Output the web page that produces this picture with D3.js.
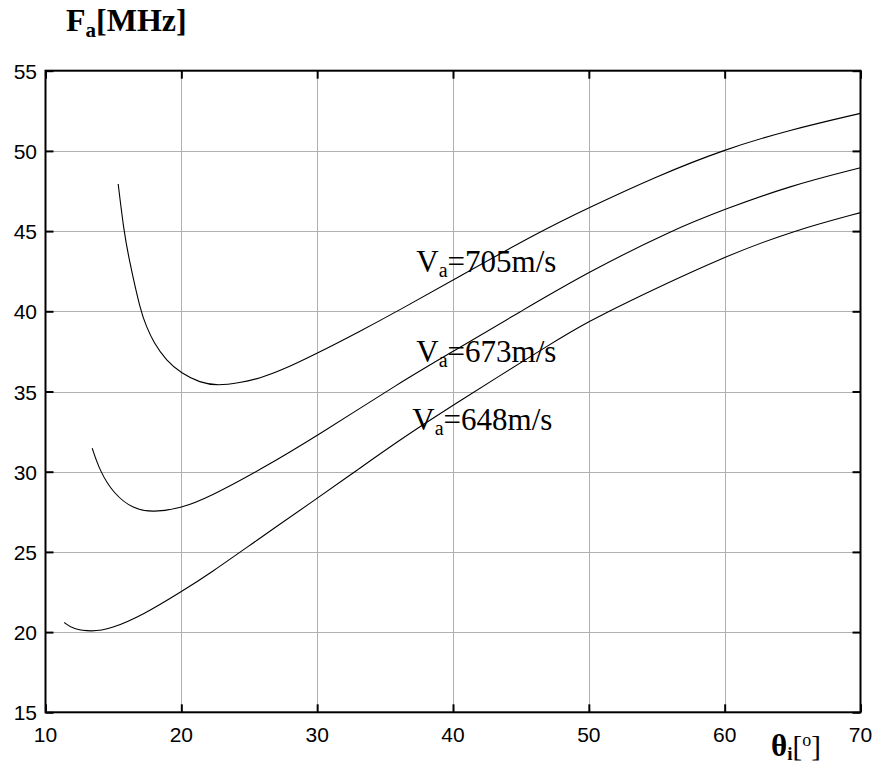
<!DOCTYPE html>
<html>
<head>
<meta charset="utf-8">
<script src="https://cdn.jsdelivr.net/npm/d3@7"></script>
<style>
  body { margin: 0; background: #fff; }
</style>
</head>
<body>
<script>
// angle of incidence (deg) and frequency (MHz)
const x705 = [15.35, 15.77, 16.16, 17.0, 17.44, 17.93, 18.91, 20, 21.36, 22.7, 24.3, 25.77, 27.44, 30, 33.1, 36.07, 40, 46.36, 50, 54.94, 60, 64.74, 70];
const y705 = [47.94, 45.0, 43.2, 40.0, 39.04, 38.1, 36.9, 36.14, 35.55, 35.36, 35.55, 35.82, 36.34, 37.38, 38.73, 40.08, 41.95, 44.96, 46.46, 48.4, 50.1, 51.3, 52.34];

const x673 = [13.44, 14.0, 14.99, 16.46, 17.93, 20, 22.1, 25.77, 30, 36.07, 40, 45, 50, 56.16, 60, 64.74, 70];
const y673 = [31.46, 30.05, 28.65, 27.66, 27.47, 27.72, 28.44, 30.1, 32.23, 35.55, 37.5, 40.0, 42.47, 45.07, 46.36, 47.81, 48.95];

const x648 = [11.38, 12.04, 13.4, 14.74, 17.19, 20, 22.1, 25.77, 30, 32.88, 36.07, 40, 47.83, 50, 52.0, 60, 65.24, 70];
const y648 = [20.6, 20.17, 20.03, 20.17, 21.07, 22.52, 23.65, 25.85, 28.34, 30.06, 31.98, 34.15, 38.32, 39.35, 40.25, 43.45, 45.07, 46.15];

const xTicks = [10, 20, 30, 40, 50, 60, 70];
const yTicks = [15, 20, 25, 30, 35, 40, 45, 50, 55];
const speeds = ["705", "673", "648"];

const W = 874, H = 766;
const pLeft = 45.5, pRight = 860.5, pTop = 70.7, pBottom = 712.3;

const svg = d3.select("body").append("svg")
    .attr("width", W)
    .attr("height", H);

const x = d3.scaleLinear().domain([10, 70]).range([pLeft, pRight]);
const y = d3.scaleLinear().domain([15, 55]).range([pBottom, pTop]);

// grid
svg.append("g")
    .selectAll("line")
    .data(xTicks.slice(1, -1))
    .join("line")
    .attr("x1", d => Math.round(x(d)) + 0.5).attr("x2", d => Math.round(x(d)) + 0.5)
    .attr("y1", pTop).attr("y2", pBottom)
    .attr("stroke", "#b0b0b0").attr("stroke-width", 1);

svg.append("g")
    .selectAll("line")
    .data(yTicks.slice(1, -1))
    .join("line")
    .attr("y1", d => Math.round(y(d)) + 0.5).attr("y2", d => Math.round(y(d)) + 0.5)
    .attr("x1", pLeft).attr("x2", pRight)
    .attr("stroke", "#b0b0b0").attr("stroke-width", 1);

// curves
const line = d3.line()
    .x(d => x(d[0]))
    .y(d => y(d[1]))
    .curve(d3.curveBasis);

[[x705, y705], [x673, y673], [x648, y648]].forEach(([xs, ys]) => {
    svg.append("path")
        .datum(d3.zip(xs, ys))
        .attr("fill", "none")
        .attr("stroke", "#000")
        .attr("stroke-width", 1.1)
        .attr("d", line);
});

// axes with inward ticks
const tl = 8;
svg.append("g")
    .attr("transform", `translate(0,${pBottom})`)
    .call(d3.axisBottom(x).tickValues(xTicks).tickSizeInner(-tl).tickSizeOuter(0).tickFormat(""))
    .call(g => g.select(".domain").remove());
svg.append("g")
    .attr("transform", `translate(0,${pTop})`)
    .call(d3.axisTop(x).tickValues(xTicks).tickSizeInner(-tl).tickSizeOuter(0).tickFormat(""))
    .call(g => g.select(".domain").remove());
svg.append("g")
    .attr("transform", `translate(${pLeft},0)`)
    .call(d3.axisLeft(y).tickValues(yTicks).tickSizeInner(-tl).tickSizeOuter(0).tickFormat(""))
    .call(g => g.select(".domain").remove());
svg.append("g")
    .attr("transform", `translate(${pRight},0)`)
    .call(d3.axisRight(y).tickValues(yTicks).tickSizeInner(-tl).tickSizeOuter(0).tickFormat(""))
    .call(g => g.select(".domain").remove());
svg.selectAll(".tick line").attr("stroke", "#000").attr("stroke-width", 2);

svg.append("rect")
    .attr("x", pLeft).attr("y", pTop)
    .attr("width", pRight - pLeft).attr("height", pBottom - pTop)
    .attr("fill", "none").attr("stroke", "#000").attr("stroke-width", 2);

// tick labels
svg.append("g")
    .selectAll("text")
    .data(xTicks)
    .join("text")
    .attr("x", d => x(d))
    .attr("y", 742)
    .attr("text-anchor", "middle")
    .attr("font-family", "Liberation Sans, Arial, sans-serif")
    .attr("font-size", 21)
    .text(d => d);

svg.append("g")
    .selectAll("text")
    .data(yTicks)
    .join("text")
    .attr("x", 37)
    .attr("y", d => y(d) + 8)
    .attr("text-anchor", "end")
    .attr("font-family", "Liberation Sans, Arial, sans-serif")
    .attr("font-size", 21)
    .text(d => d);

// axis titles
const serif = "Liberation Serif, Times New Roman, serif";
const yt = svg.append("text")
    .attr("x", 66).attr("y", 31)
    .attr("font-family", serif).attr("font-weight", "bold").attr("font-size", 32);
yt.append("tspan").text("F");
yt.append("tspan").attr("font-size", 21).attr("dy", 6).text("a");
yt.append("tspan").attr("dy", -6).text("[MHz]");

const xt = svg.append("text")
    .attr("x", 771).attr("y", 756)
    .attr("font-family", serif).attr("font-size", 29);
xt.append("tspan").attr("font-weight", "bold").attr("font-size", 31).text("θ");
xt.append("tspan").attr("font-weight", "bold").attr("font-size", 19).attr("dy", 4).text("i");
xt.append("tspan").attr("dy", -4).text("[");
xt.append("tspan").attr("font-size", 18).attr("dy", -10).text("o");
xt.append("tspan").attr("dy", 10).text("]");

// curve labels
const labelPos = [[37.3, 42.46], [37.3, 36.85], [37.0, 32.6]];
speeds.forEach((s, i) => {
    const t = svg.append("text")
        .attr("x", x(labelPos[i][0]))
        .attr("y", y(labelPos[i][1]))
        .attr("font-family", serif)
        .attr("font-size", 31);
    t.append("tspan").text("V");
    t.append("tspan").attr("font-size", 20).attr("dy", 5).text("a");
    t.append("tspan").attr("dy", -5).text("=" + s + "m/s");
});
</script>
</body>
</html>
